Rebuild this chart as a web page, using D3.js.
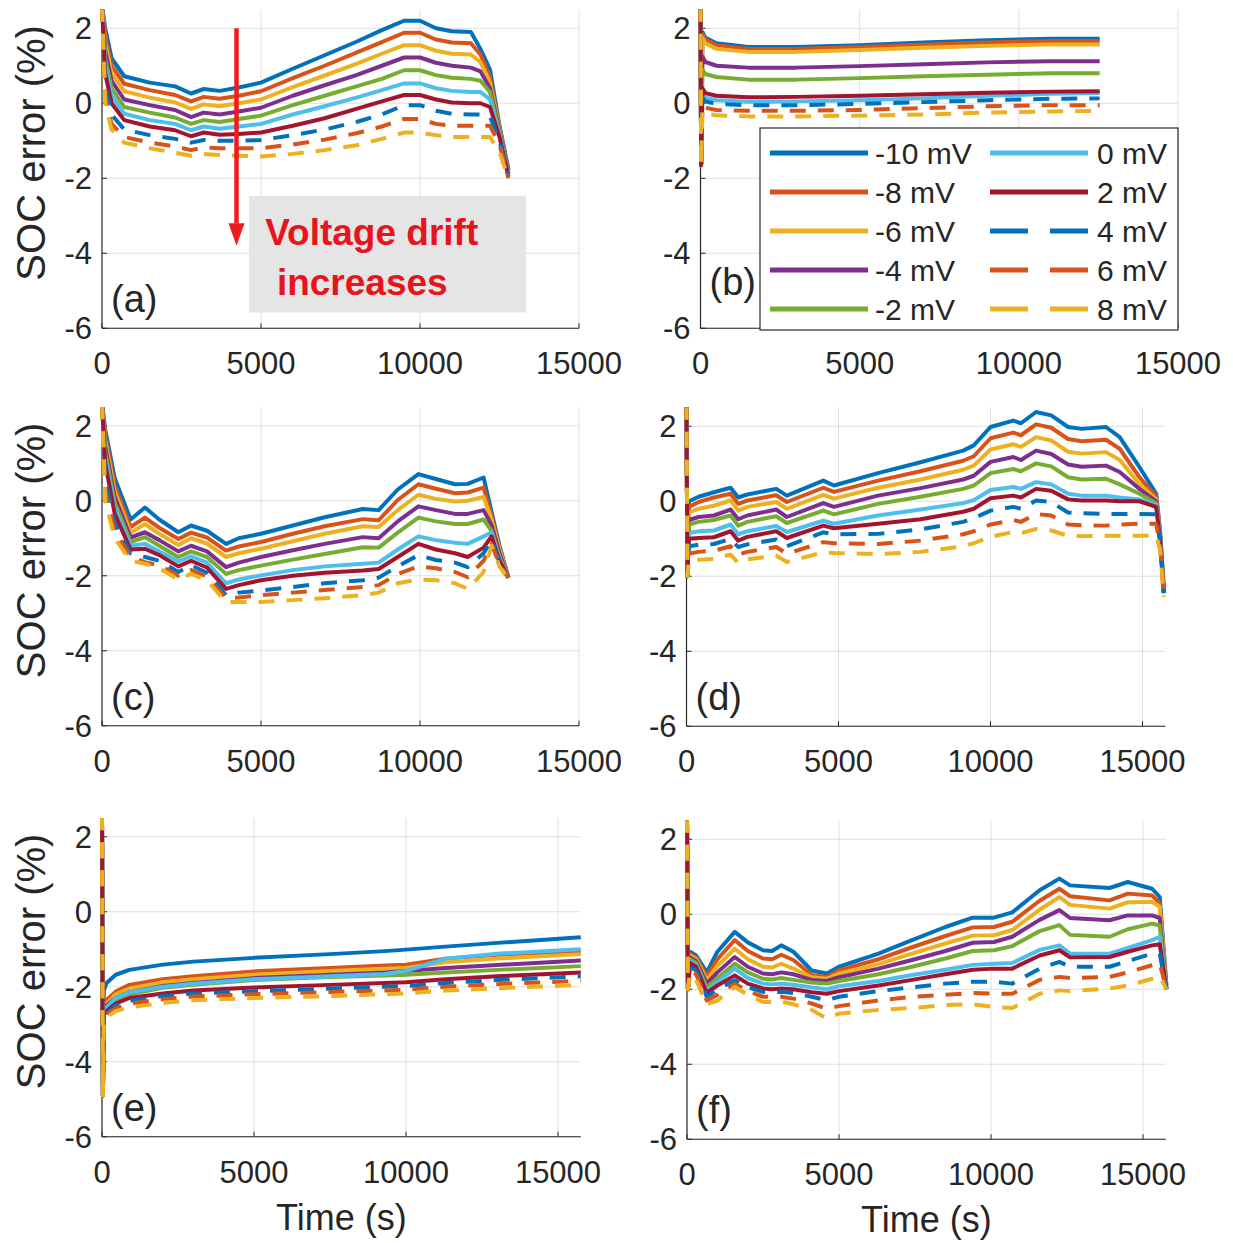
<!DOCTYPE html>
<html><head><meta charset="utf-8">
<script src="https://cdn.jsdelivr.net/npm/d3@7"></script>
<style>
body{margin:0;background:#fff;}
svg text{font-family:Arial,"Liberation Sans",Helvetica,sans-serif;}
</style>
</head><body>
<svg id="chart" width="1233" height="1243"></svg>
<script>
// ---------- series meta ----------
const seriesLabels = ["-10 mV","-8 mV","-6 mV","-4 mV","-2 mV","0 mV","2 mV","4 mV","6 mV","8 mV"];
const seriesColors = ["#0072BD","#D95319","#EDB120","#7E2F8E","#77AC30","#4DBEEE","#A2142F","#0072BD","#D95319","#EDB120"];
const seriesDashed = [false,false,false,false,false,false,false,true,true,true];
const yTicks = [-6,-4,-2,0,2];
const yTickLabels = ["-6","-4","-2","0","2"];
const xTicks = [0,5000,10000,15000];
const xTickLabels = ["0","5000","10000","15000"];
const panelLabels = ["(a)","(b)","(c)","(d)","(e)","(f)"];

// ---------- panel (a) ----------
const timeA = [0,100,300,700,1500,2300,2800,3200,3700,4300,5000,6000,7000,8000,8800,9500,10000,10500,11000,11600,11900,12200,12500,12780];
const socA = [
 [2.6,2.0,1.2,0.72,0.55,0.45,0.26,0.38,0.33,0.42,0.55,0.92,1.28,1.64,1.95,2.2,2.2,2.0,1.92,1.9,1.45,0.9,-0.6,-1.75],
 [2.6,1.8,1.0,0.52,0.35,0.22,0.05,0.17,0.12,0.2,0.32,0.67,1.0,1.35,1.63,1.88,1.88,1.7,1.62,1.6,1.3,0.7,-0.65,-1.8],
 [2.6,1.6,0.8,0.32,0.15,0.02,-0.15,-0.03,-0.08,0.0,0.1,0.43,0.74,1.05,1.32,1.55,1.55,1.4,1.32,1.3,1.1,0.55,-0.7,-1.85],
 [2.6,1.4,0.6,0.1,-0.05,-0.18,-0.37,-0.25,-0.3,-0.22,-0.12,0.2,0.48,0.75,1.0,1.22,1.22,1.08,1.0,0.95,0.85,0.4,-0.75,-1.85],
 [2.6,1.2,0.4,-0.1,-0.25,-0.38,-0.55,-0.45,-0.5,-0.42,-0.33,-0.05,0.2,0.45,0.65,0.88,0.88,0.75,0.68,0.65,0.6,0.3,-0.8,-1.9],
 [2.6,1.0,0.2,-0.28,-0.45,-0.55,-0.72,-0.62,-0.68,-0.62,-0.55,-0.3,-0.08,0.15,0.35,0.53,0.53,0.4,0.33,0.3,0.3,0.1,-0.85,-1.9],
 [2.6,0.8,0.0,-0.45,-0.62,-0.72,-0.88,-0.78,-0.84,-0.82,-0.78,-0.6,-0.4,-0.15,0.05,0.22,0.22,0.1,0.02,0.0,0.0,-0.1,-0.9,-1.95],
 [2.6,0.5,-0.3,-0.7,-0.85,-0.95,-1.05,-0.98,-1.0,-1.0,-0.98,-0.85,-0.7,-0.5,-0.3,-0.05,-0.05,-0.2,-0.28,-0.3,-0.3,-0.35,-1.0,-1.95],
 [2.6,0.2,-0.55,-0.9,-1.05,-1.15,-1.25,-1.18,-1.2,-1.2,-1.2,-1.1,-0.97,-0.8,-0.62,-0.42,-0.42,-0.55,-0.6,-0.6,-0.6,-0.6,-1.1,-2.0],
 [2.6,0.0,-0.7,-1.05,-1.2,-1.32,-1.4,-1.35,-1.38,-1.4,-1.42,-1.35,-1.25,-1.12,-0.95,-0.78,-0.78,-0.85,-0.9,-0.9,-0.9,-0.9,-1.3,-2.0]
];

// ---------- panel (b) ----------
const timeB = [0,20,60,150,500,1500,3000,5000,7000,9000,11000,12540];
const socB = [
 [2.6,-1.65,1.9,1.75,1.6,1.5,1.5,1.55,1.62,1.68,1.72,1.72],
 [2.6,-1.65,1.85,1.7,1.55,1.45,1.45,1.5,1.56,1.62,1.66,1.66],
 [2.6,-1.65,1.75,1.6,1.45,1.37,1.37,1.42,1.48,1.53,1.57,1.57],
 [2.6,-1.65,1.25,1.1,1.0,0.95,0.95,0.99,1.04,1.09,1.12,1.12],
 [2.6,-1.65,0.9,0.78,0.7,0.63,0.63,0.67,0.72,0.76,0.8,0.8],
 [2.6,-1.65,0.3,0.15,0.08,0.04,0.05,0.08,0.13,0.2,0.25,0.27],
 [2.6,-1.65,0.4,0.27,0.2,0.16,0.17,0.2,0.24,0.28,0.31,0.32],
 [2.6,-1.65,0.15,0.05,-0.02,-0.05,-0.05,-0.02,0.03,0.08,0.12,0.13],
 [2.6,-1.65,-0.05,-0.12,-0.18,-0.2,-0.2,-0.18,-0.13,-0.08,-0.05,-0.05],
 [2.6,-1.65,-0.2,-0.28,-0.32,-0.35,-0.35,-0.33,-0.3,-0.25,-0.22,-0.2]
];

// ---------- panel (c) ----------
const timeC = [0,100,400,900,1350,1800,2400,2800,3300,3900,4300,5000,6000,7000,8200,8700,9300,9950,10500,11100,11500,12000,12250,12500,12780];
const socC = [
 [2.6,1.9,0.6,-0.5,-0.18,-0.5,-0.84,-0.66,-0.8,-1.15,-1.0,-0.88,-0.66,-0.44,-0.22,-0.25,0.3,0.71,0.58,0.44,0.45,0.62,-0.3,-1.2,-2.05],
 [2.6,1.75,0.4,-0.7,-0.45,-0.72,-1.02,-0.85,-0.98,-1.33,-1.22,-1.1,-0.88,-0.68,-0.49,-0.52,0.02,0.44,0.32,0.2,0.22,0.35,-0.4,-1.25,-2.05],
 [2.6,1.6,0.25,-0.85,-0.62,-0.88,-1.18,-1.0,-1.14,-1.5,-1.4,-1.28,-1.08,-0.88,-0.68,-0.7,-0.25,0.16,0.05,-0.02,0.0,0.1,-0.5,-1.3,-2.05],
 [2.6,1.45,0.1,-0.98,-0.84,-1.05,-1.35,-1.2,-1.35,-1.77,-1.65,-1.5,-1.32,-1.15,-0.97,-1.0,-0.55,-0.15,-0.25,-0.35,-0.35,-0.25,-0.65,-1.4,-2.05],
 [2.6,1.3,-0.05,-1.1,-0.97,-1.2,-1.5,-1.35,-1.5,-1.95,-1.85,-1.73,-1.57,-1.42,-1.24,-1.25,-0.85,-0.45,-0.55,-0.62,-0.62,-0.5,-0.8,-1.5,-2.05],
 [2.6,1.15,-0.2,-1.2,-1.15,-1.35,-1.62,-1.48,-1.65,-2.2,-2.1,-1.99,-1.85,-1.75,-1.68,-1.65,-1.3,-0.95,-1.05,-1.12,-1.15,-0.95,-0.85,-1.55,-2.05],
 [2.6,1.0,-0.35,-1.3,-1.28,-1.45,-1.75,-1.6,-1.78,-2.35,-2.25,-2.12,-2.0,-1.92,-1.86,-1.82,-1.5,-1.15,-1.3,-1.4,-1.5,-1.25,-0.95,-1.6,-2.05],
 [2.6,0.6,-0.6,-1.4,-1.5,-1.6,-1.9,-1.72,-1.92,-2.52,-2.45,-2.39,-2.3,-2.2,-2.12,-2.05,-1.75,-1.45,-1.58,-1.65,-1.77,-1.4,-1.05,-1.65,-2.05],
 [2.6,0.3,-0.8,-1.5,-1.64,-1.72,-2.0,-1.85,-2.02,-2.6,-2.58,-2.52,-2.45,-2.38,-2.3,-2.25,-1.95,-1.75,-1.8,-1.9,-2.04,-1.6,-1.15,-1.7,-2.05],
 [2.6,0.0,-1.0,-1.6,-1.68,-1.8,-2.1,-1.95,-2.12,-2.7,-2.7,-2.7,-2.65,-2.6,-2.52,-2.45,-2.2,-2.1,-2.12,-2.2,-2.35,-1.9,-1.2,-1.75,-2.1]
];

// ---------- panel (d) ----------
const timeD = [0,30,80,400,900,1450,1700,2000,2950,3300,4500,4850,6300,7700,9100,9450,10000,10750,11000,11500,12000,12550,13000,13800,14250,14900,15450,15580,15700];
const socD = [
 [2.6,-2.0,0.0,0.12,0.24,0.36,0.1,0.18,0.33,0.15,0.55,0.42,0.75,1.04,1.35,1.49,1.98,2.15,2.08,2.38,2.29,1.98,1.93,1.98,1.71,0.91,0.2,-0.8,-2.3],
 [2.6,-2.0,-0.15,-0.02,0.1,0.2,-0.07,0.02,0.16,-0.02,0.36,0.25,0.55,0.8,1.08,1.2,1.68,1.83,1.76,2.05,1.96,1.66,1.6,1.64,1.4,0.64,0.12,-0.85,-2.35],
 [2.6,-2.0,-0.3,-0.2,-0.12,0.02,-0.25,-0.15,-0.02,-0.2,0.17,0.07,0.36,0.58,0.84,0.95,1.38,1.52,1.45,1.71,1.62,1.32,1.27,1.31,1.1,0.46,0.05,-0.9,-2.4],
 [2.6,-2.0,-0.5,-0.42,-0.38,-0.22,-0.48,-0.38,-0.22,-0.42,-0.05,-0.15,0.15,0.35,0.58,0.68,1.05,1.18,1.1,1.35,1.26,0.98,0.92,0.95,0.78,0.33,0.0,-0.95,-2.4],
 [2.6,-2.0,-0.62,-0.55,-0.5,-0.38,-0.65,-0.55,-0.4,-0.58,-0.25,-0.35,-0.07,0.12,0.33,0.42,0.75,0.86,0.8,1.01,0.93,0.64,0.58,0.6,0.45,0.2,-0.05,-1.0,-2.4],
 [2.6,-2.0,-0.85,-0.8,-0.78,-0.62,-0.88,-0.8,-0.66,-0.82,-0.52,-0.6,-0.38,-0.22,-0.05,0.03,0.3,0.38,0.33,0.51,0.45,0.2,0.15,0.15,0.1,0.05,-0.1,-1.0,-2.45],
 [2.6,-2.0,-1.0,-0.98,-0.96,-0.8,-1.05,-0.95,-0.8,-0.98,-0.65,-0.72,-0.6,-0.48,-0.28,-0.2,0.08,0.15,0.1,0.33,0.28,0.05,0.02,0.02,0.0,0.0,-0.15,-1.05,-2.45],
 [2.6,-2.0,-1.2,-1.16,-1.14,-1.0,-1.22,-1.15,-1.02,-1.2,-0.83,-0.88,-0.87,-0.75,-0.55,-0.45,-0.25,-0.15,-0.2,0.02,-0.02,-0.3,-0.32,-0.34,-0.34,-0.34,-0.35,-1.1,-2.45],
 [2.6,-2.0,-1.4,-1.35,-1.32,-1.2,-1.42,-1.35,-1.22,-1.4,-1.09,-1.12,-1.14,-1.05,-0.88,-0.8,-0.62,-0.5,-0.55,-0.34,-0.38,-0.62,-0.64,-0.65,-0.62,-0.6,-0.6,-1.2,-2.5],
 [2.6,-2.0,-1.6,-1.56,-1.54,-1.42,-1.65,-1.55,-1.45,-1.62,-1.36,-1.38,-1.41,-1.35,-1.2,-1.12,-0.95,-0.82,-0.85,-0.74,-0.78,-0.92,-0.93,-0.92,-0.92,-0.92,-0.92,-1.3,-2.55]
];

// ---------- panel (e) ----------
const timeE = [0,30,60,150,450,900,2000,3000,5000,7500,9300,10000,11300,13000,15750];
const socE = [
 [2.6,-4.9,-2.1,-1.9,-1.68,-1.55,-1.41,-1.33,-1.23,-1.13,-1.05,-1.01,-0.93,-0.83,-0.68],
 [2.6,-4.9,-2.5,-2.35,-2.13,-1.95,-1.8,-1.72,-1.59,-1.5,-1.43,-1.41,-1.25,-1.15,-1.05],
 [2.6,-4.9,-2.55,-2.45,-2.2,-2.05,-1.88,-1.8,-1.68,-1.58,-1.52,-1.5,-1.35,-1.25,-1.13],
 [2.6,-4.9,-2.6,-2.5,-2.3,-2.15,-1.98,-1.9,-1.77,-1.68,-1.62,-1.58,-1.5,-1.42,-1.3],
 [2.6,-4.9,-2.65,-2.55,-2.35,-2.2,-2.03,-1.95,-1.82,-1.74,-1.7,-1.68,-1.62,-1.55,-1.45],
 [2.6,-4.9,-2.65,-2.55,-2.3,-2.15,-2.0,-1.92,-1.8,-1.72,-1.66,-1.58,-1.25,-1.12,-1.0],
 [2.6,-4.9,-2.75,-2.65,-2.45,-2.3,-2.18,-2.1,-2.02,-1.95,-1.9,-1.88,-1.8,-1.72,-1.62],
 [2.6,-4.9,-2.8,-2.7,-2.5,-2.38,-2.25,-2.18,-2.12,-2.05,-2.0,-1.98,-1.9,-1.82,-1.72],
 [2.6,-4.9,-2.85,-2.75,-2.58,-2.45,-2.33,-2.26,-2.2,-2.14,-2.1,-2.08,-2.0,-1.93,-1.84],
 [2.6,-4.9,-2.9,-2.82,-2.65,-2.55,-2.43,-2.36,-2.3,-2.25,-2.2,-2.18,-2.1,-2.04,-1.95]
];

// ---------- panel (f) ----------
const timeF = [0,30,100,300,650,1000,1570,2000,2500,2800,3100,3500,4100,4600,5000,6300,7400,8500,9400,10100,10700,11600,12250,12600,13900,14500,15300,15550,15770];
const socF = [
 [2.6,-2.0,-1.0,-1.1,-1.55,-1.0,-0.47,-0.75,-0.96,-0.98,-0.83,-1.0,-1.5,-1.58,-1.4,-1.05,-0.69,-0.34,-0.09,-0.09,0.05,0.64,0.95,0.77,0.7,0.86,0.68,0.46,-1.9],
 [2.6,-2.0,-1.05,-1.15,-1.65,-1.2,-0.69,-0.98,-1.18,-1.2,-1.08,-1.22,-1.62,-1.67,-1.5,-1.2,-0.88,-0.58,-0.35,-0.34,-0.2,0.36,0.68,0.48,0.37,0.55,0.5,0.3,-1.95],
 [2.6,-2.0,-1.1,-1.2,-1.75,-1.38,-0.92,-1.2,-1.4,-1.42,-1.32,-1.45,-1.68,-1.72,-1.58,-1.33,-1.05,-0.78,-0.57,-0.56,-0.42,0.12,0.46,0.25,0.15,0.32,0.33,0.2,-1.95],
 [2.6,-2.0,-1.15,-1.25,-1.85,-1.55,-1.14,-1.4,-1.58,-1.6,-1.55,-1.6,-1.75,-1.78,-1.68,-1.45,-1.22,-0.98,-0.76,-0.74,-0.6,-0.15,0.11,-0.1,-0.16,-0.03,-0.03,-0.1,-2.0],
 [2.6,-2.0,-1.2,-1.3,-1.95,-1.7,-1.32,-1.55,-1.72,-1.74,-1.7,-1.75,-1.82,-1.85,-1.78,-1.6,-1.4,-1.18,-0.98,-0.96,-0.85,-0.45,-0.29,-0.55,-0.6,-0.4,-0.25,-0.3,-2.0],
 [2.6,-2.0,-1.25,-1.35,-2.05,-1.8,-1.45,-1.7,-1.85,-1.87,-1.85,-1.88,-1.95,-2.0,-1.92,-1.78,-1.62,-1.48,-1.35,-1.32,-1.3,-0.95,-0.83,-1.05,-1.05,-0.9,-0.69,-0.6,-2.0],
 [2.6,-2.0,-1.3,-1.4,-2.1,-1.9,-1.63,-1.85,-1.98,-2.0,-1.98,-2.0,-2.08,-2.12,-2.05,-1.9,-1.75,-1.6,-1.48,-1.45,-1.45,-1.1,-0.96,-1.15,-1.14,-1.0,-0.83,-0.8,-2.0],
 [2.6,-2.0,-1.4,-1.5,-2.2,-2.0,-1.76,-1.95,-2.07,-2.08,-2.07,-2.1,-2.2,-2.29,-2.2,-2.05,-1.95,-1.85,-1.8,-1.8,-1.85,-1.45,-1.27,-1.4,-1.4,-1.25,-1.05,-1.05,-2.0],
 [2.6,-2.0,-1.5,-1.6,-2.3,-2.15,-1.85,-2.05,-2.2,-2.2,-2.2,-2.25,-2.38,-2.52,-2.45,-2.3,-2.2,-2.15,-2.1,-2.12,-2.12,-1.75,-1.67,-1.7,-1.67,-1.55,-1.36,-1.3,-2.0],
 [2.6,-2.0,-1.6,-1.75,-2.4,-2.3,-1.94,-2.15,-2.34,-2.34,-2.33,-2.4,-2.55,-2.78,-2.65,-2.55,-2.5,-2.42,-2.4,-2.47,-2.5,-2.12,-2.03,-2.05,-1.98,-1.9,-1.72,-1.65,-2.0]
];

// ---------- layout ----------
const PH = 318.75; // panel plot height (y from -6 to 2.5)
const panels = [
 {t:timeA, v:socA, xMax:15000, left:102,   top:9.5,   width:477,   ylab:true,  xlab:false},
 {t:timeB, v:socB, xMax:15000, left:700.5, top:9.5,   width:477.5, ylab:false, xlab:false, legend:true},
 {t:timeC, v:socC, xMax:15000, left:102,   top:407,   width:477,   ylab:true,  xlab:false},
 {t:timeD, v:socD, xMax:15750, left:686.5, top:407.5, width:478.8, ylab:false, xlab:false},
 {t:timeE, v:socE, xMax:15750, left:102,   top:818,   width:478.8, ylab:true,  xlab:true},
 {t:timeF, v:socF, xMax:15750, left:687,   top:820.5, width:478.8, ylab:false, xlab:true}
];

const svg = d3.select("#chart");
const axisColor = "#262626";

panels.forEach((p, pi) => {
  const x = d3.scaleLinear().domain([0, p.xMax]).range([p.left, p.left + p.width]);
  const y = d3.scaleLinear().domain([-6, 2.5]).range([p.top + PH, p.top]);
  const g = svg.append("g");
  const clipId = "clip" + pi;
  svg.append("clipPath").attr("id", clipId).append("rect")
    .attr("x", p.left - 4).attr("y", p.top).attr("width", p.width + 8).attr("height", PH);

  // grid
  g.append("g").selectAll("line").data(yTicks).join("line")
    .attr("x1", p.left).attr("x2", p.left + p.width)
    .attr("y1", d => y(d)).attr("y2", d => y(d))
    .attr("stroke", "#dfdfdf").attr("stroke-width", 1);
  g.append("g").selectAll("line").data(xTicks.filter(d => d > 0 && d <= p.xMax)).join("line")
    .attr("x1", d => x(d)).attr("x2", d => x(d))
    .attr("y1", p.top).attr("y2", p.top + PH)
    .attr("stroke", "#dfdfdf").attr("stroke-width", 1);

  // axes lines
  g.append("line").attr("x1", p.left).attr("x2", p.left).attr("y1", p.top).attr("y2", p.top + PH)
    .attr("stroke", axisColor).attr("stroke-width", 1.2);
  g.append("line").attr("x1", p.left).attr("x2", p.left + p.width).attr("y1", p.top + PH).attr("y2", p.top + PH)
    .attr("stroke", axisColor).attr("stroke-width", 1.2);
  // ticks (inward)
  g.append("g").selectAll("line").data(yTicks).join("line")
    .attr("x1", p.left).attr("x2", p.left + 5).attr("y1", d => y(d)).attr("y2", d => y(d))
    .attr("stroke", axisColor);
  g.append("g").selectAll("line").data(xTicks.filter(d => d <= p.xMax)).join("line")
    .attr("x1", d => x(d)).attr("x2", d => x(d)).attr("y1", p.top + PH).attr("y2", p.top + PH - 5)
    .attr("stroke", axisColor);

  // annotation box in (a) drawn under the lines
  if (pi === 0) {
    g.append("rect")
      .attr("x", x(4620)).attr("y", y(-2.47))
      .attr("width", x(13330) - x(4620)).attr("height", y(-5.58) - y(-2.47))
      .attr("fill", "#e5e5e5");
  }

  // data lines
  const line = d3.line().x(d => x(d[0])).y(d => y(d[1]));
  const lg = g.append("g").attr("clip-path", `url(#${clipId})`);
  p.v.forEach((vals, si) => {
    const pts = p.t.map((t, i) => [t, vals[i]]);
    lg.append("path").datum(pts)
      .attr("d", line)
      .attr("fill", "none")
      .attr("stroke", seriesColors[si])
      .attr("stroke-width", 4)
      .attr("stroke-linejoin", "round")
      .attr("stroke-dasharray", seriesDashed[si] ? "16,12" : null);
  });

  // tick labels
  g.append("g").selectAll("text").data(yTicks).join("text")
    .attr("x", p.left - 10).attr("y", d => y(d) + 11)
    .attr("text-anchor", "end").attr("font-size", 31).attr("fill", axisColor)
    .text((d, i) => yTickLabels[i]);
  g.append("g").selectAll("text").data(xTicks).join("text")
    .attr("x", d => x(d)).attr("y", p.top + PH + 46)
    .attr("text-anchor", "middle").attr("font-size", 31).attr("fill", axisColor)
    .text((d, i) => xTickLabels[i]);

  // panel label
  g.append("text").attr("x", p.left + 9).attr("y", y(pi === 1 ? -4.8 : -5.25) + 12)
    .attr("font-size", 38).attr("fill", axisColor).text(panelLabels[pi]);

  if (p.ylab) {
    g.append("text")
      .attr("transform", `translate(45,${p.top + PH / 2 - 16}) rotate(-90)`)
      .attr("text-anchor", "middle").attr("font-size", 40).attr("fill", axisColor)
      .text("SOC error (%)");
  }
  if (p.xlab) {
    g.append("text").attr("x", p.left + p.width / 2).attr("y", p.top + PH + 93)
      .attr("text-anchor", "middle").attr("font-size", 36).attr("fill", axisColor)
      .text("Time (s)");
  }

  if (pi === 0) {
    // arrow
    const ax = x(4230);
    g.append("line").attr("x1", ax).attr("x2", ax).attr("y1", y(2.0)).attr("y2", y(-3.2))
      .attr("stroke", "#ee1c1c").attr("stroke-width", 4.5);
    g.append("path")
      .attr("d", `M${ax - 8},${y(-3.2)} L${ax + 8},${y(-3.2)} L${ax},${y(-3.8)} Z`)
      .attr("fill", "#ee1c1c");
    g.append("text").attr("x", x(5130)).attr("y", y(-3.77))
      .attr("font-size", 37).attr("font-weight", "bold").attr("fill", "#e8141c")
      .text("Voltage drift");
    g.append("text").attr("x", x(5500)).attr("y", y(-5.1))
      .attr("font-size", 37).attr("font-weight", "bold").attr("fill", "#e8141c")
      .text("increases");
  }

  if (p.legend) {
    const lx = 760, ly = 128, lw = 418, lh = 202;
    const lgd = g.append("g");
    lgd.append("rect").attr("x", lx).attr("y", ly).attr("width", lw).attr("height", lh)
      .attr("fill", "#fff").attr("stroke", axisColor).attr("stroke-width", 1.2);
    seriesLabels.forEach((lab, si) => {
      const col = Math.floor(si / 5), row = si % 5;
      const cy = ly + 25 + row * 39;
      const x0 = col === 0 ? 770 : 990;
      lgd.append("line").attr("x1", x0).attr("x2", x0 + 98).attr("y1", cy).attr("y2", cy)
        .attr("stroke", seriesColors[si]).attr("stroke-width", 5)
        .attr("stroke-dasharray", seriesDashed[si] ? "38,22" : null);
      lgd.append("text").attr("x", col === 0 ? 875 : 1097).attr("y", cy + 11)
        .attr("font-size", 30).attr("fill", axisColor).text(lab);
    });
  }
});
</script>
</body></html>
